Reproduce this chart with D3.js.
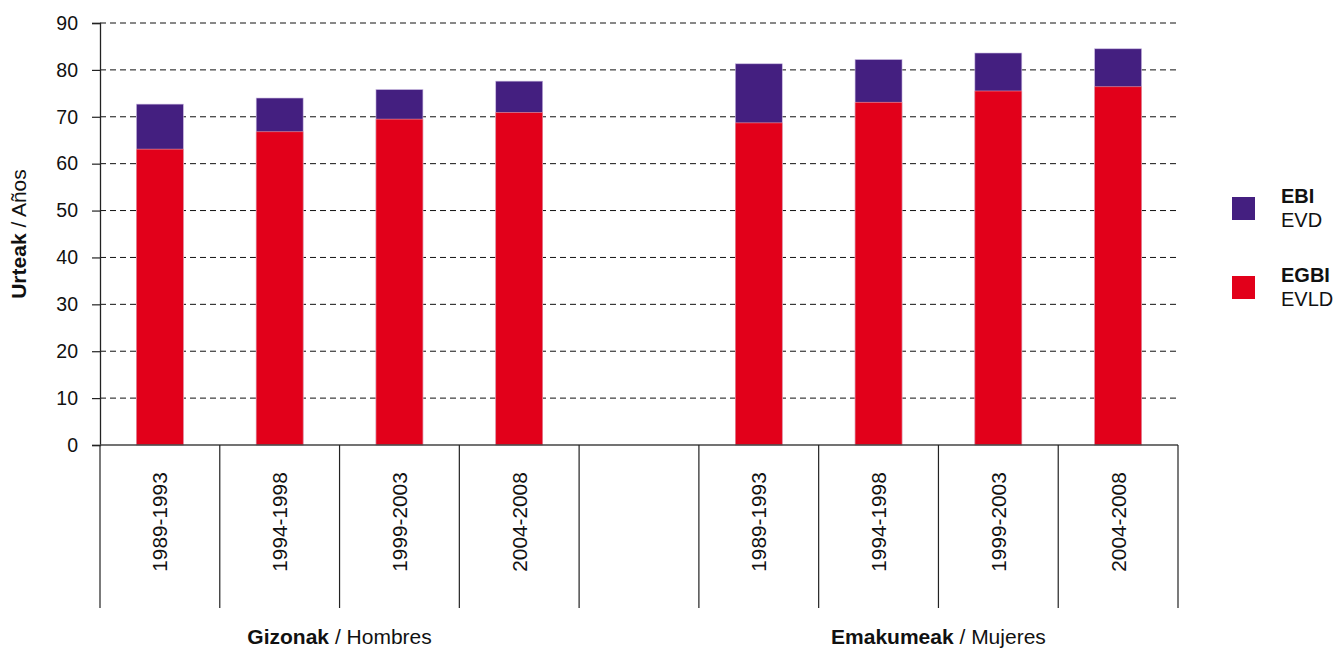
<!DOCTYPE html>
<html>
<head>
<meta charset="utf-8">
<script src="https://cdn.jsdelivr.net/npm/d3@7"></script>
<style>
  html, body { margin: 0; padding: 0; background: #fff; }
  svg { display: block; font-family: "Liberation Sans", Arial, Helvetica, sans-serif; }
</style>
</head>
<body>
<svg id="chart" width="1336" height="650"></svg>
<script>
// ---- data ----
const periods = ["1989-1993", "1994-1998", "1999-2003", "2004-2008"];
const groups = ["Gizonak", "Emakumeak"];
const groupSub = ["Hombres", "Mujeres"];
// EBI / EVD (life expectancy) - total bar height
const ebiMen = [72.7, 74.0, 75.8, 77.6];
const ebiWomen = [81.3, 82.2, 83.6, 84.5];
// EGBI / EVLD (healthy life expectancy) - red part
const egbiMen = [63.1, 66.8, 69.5, 70.9];
const egbiWomen = [68.7, 73.1, 75.5, 76.4];
const yTicks = [0, 10, 20, 30, 40, 50, 60, 70, 80, 90];
const legendBold = ["EBI", "EGBI"];
const legendSub = ["EVD", "EVLD"];

// ---- build ----
const colEBI = "#441f80";
const colEGBI = "#e2001a";
const rows = [];
periods.forEach((p, i) => rows.push({key: "G" + p, period: p, ebi: ebiMen[i], egbi: egbiMen[i]}));
rows.push({key: "gap", period: null});
periods.forEach((p, i) => rows.push({key: "E" + p, period: p, ebi: ebiWomen[i], egbi: egbiWomen[i]}));

const svg = d3.select("#chart");
const pLeft = 100, pRight = 1178, pTop = 23, pBottom = 445, catBottom = 608;

const x = d3.scaleBand().domain(rows.map(r => r.key)).range([pLeft, pRight])
  .paddingInner(0.608).paddingOuter(0.304);
const y = d3.scaleLinear().domain([0, 90]).range([pBottom, pTop]);
const step = x.step();

// gridlines
svg.append("g").selectAll("line").data(yTicks.filter(t => t > 0)).join("line")
  .attr("x1", pLeft).attr("x2", pRight + 2)
  .attr("y1", d => y(d)).attr("y2", d => y(d))
  .attr("stroke", "#111").attr("stroke-width", 1)
  .attr("stroke-dasharray", "6,4");

// bars
const bars = rows.filter(r => r.period);
svg.append("g").selectAll("rect").data(bars).join("rect")
  .attr("x", d => x(d.key)).attr("width", x.bandwidth())
  .attr("y", d => y(d.ebi)).attr("height", d => y(0) - y(d.ebi))
  .attr("fill", colEBI).attr("stroke", "#c9b8e0").attr("stroke-width", 0.6);
svg.append("g").selectAll("rect").data(bars).join("rect")
  .attr("x", d => x(d.key)).attr("width", x.bandwidth())
  .attr("y", d => y(d.egbi)).attr("height", d => y(0) - y(d.egbi))
  .attr("fill", colEGBI).attr("stroke", "#f2a0a8").attr("stroke-width", 0.6);

// y axis
const yAxis = svg.append("g").attr("transform", `translate(${pLeft},0)`)
  .call(d3.axisLeft(y).tickValues(yTicks).tickSize(8).tickPadding(14));
yAxis.select(".domain").attr("stroke", "#222").attr("stroke-width", 1.3);
yAxis.selectAll(".tick line").attr("stroke", "#222").attr("stroke-width", 1.2);
yAxis.selectAll("text").attr("font-size", 19.5).attr("fill", "#111")
  .attr("font-family", "Liberation Sans, Arial, sans-serif");

// x axis line
svg.append("line").attr("x1", pLeft).attr("x2", pRight).attr("y1", pBottom).attr("y2", pBottom)
  .attr("stroke", "#444").attr("stroke-width", 1.5);

// category boundary lines
const bounds = d3.range(rows.length + 1).map(i => pLeft + i * step);
svg.append("g").selectAll("line").data(bounds).join("line")
  .attr("x1", d => d).attr("x2", d => d)
  .attr("y1", pBottom).attr("y2", catBottom)
  .attr("stroke", "#222").attr("stroke-width", 1.2);

// rotated category labels
svg.append("g").selectAll("text").data(bars).join("text")
  .attr("transform", d => `translate(${x(d.key) + x.bandwidth() / 2 + 7.5},522) rotate(-90)`)
  .attr("text-anchor", "middle")
  .attr("font-size", 20.8).attr("fill", "#111")
  .text(d => d.period);

// group labels
const groupCenters = [
  (pLeft + bounds[4]) / 2,
  (bounds[5] + pRight) / 2
];
groups.forEach((g, i) => {
  const t = svg.append("text").attr("x", groupCenters[i]).attr("y", 644)
    .attr("text-anchor", "middle").attr("font-size", 21).attr("fill", "#111");
  t.append("tspan").attr("font-weight", "bold").text(g);
  t.append("tspan").text(" / " + groupSub[i]);
});

// y label
const yl = svg.append("text").attr("transform", `translate(26,${(pTop + pBottom) / 2}) rotate(-90)`)
  .attr("text-anchor", "middle").attr("font-size", 21).attr("fill", "#111");
yl.append("tspan").attr("font-weight", "bold").text("Urteak");
yl.append("tspan").text(" / Años");

// legend
const legColors = [colEBI, colEGBI];
const legY = [197, 276];
legendBold.forEach((b, i) => {
  svg.append("rect").attr("x", 1232).attr("y", legY[i]).attr("width", 23).attr("height", 23)
    .attr("fill", legColors[i]);
  svg.append("text").attr("x", 1281).attr("y", legY[i] + 6).attr("font-size", 20)
    .attr("font-weight", "bold").attr("fill", "#111").text(b);
  svg.append("text").attr("x", 1281).attr("y", legY[i] + 30).attr("font-size", 20)
    .attr("fill", "#111").text(legendSub[i]);
});
</script>
</body>
</html>
